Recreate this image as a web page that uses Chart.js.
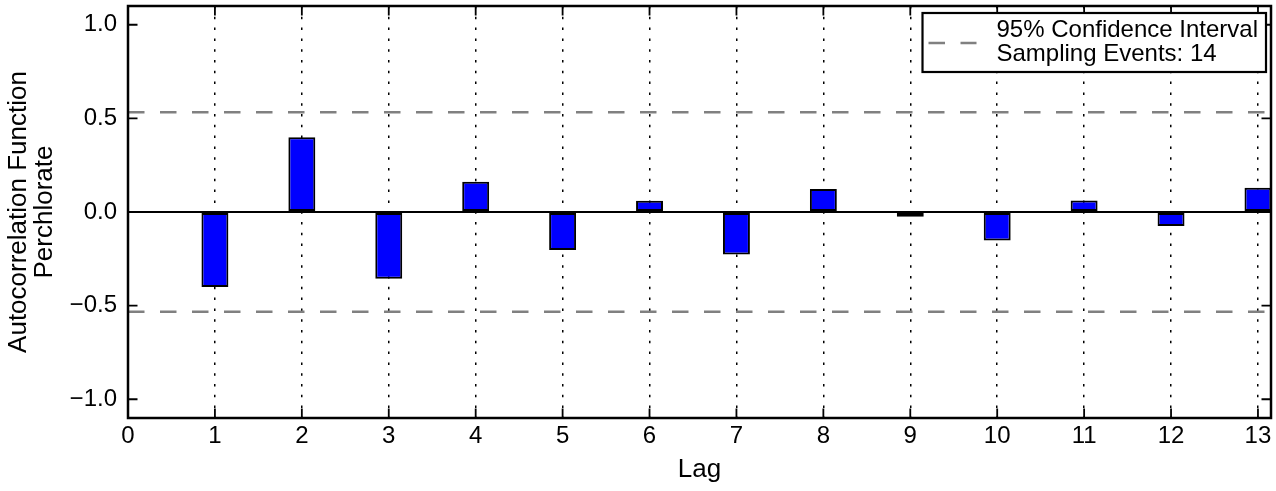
<!DOCTYPE html>
<html>
<head>
<meta charset="utf-8">
<script src="https://cdn.jsdelivr.net/npm/chart.js@4/dist/chart.umd.min.js"></script>
<style>
  html, body { margin: 0; padding: 0; background: #ffffff; }
  #wrap { width: 1276px; height: 491px; }
</style>
</head>
<body>
<div id="wrap"><canvas id="c" width="1276" height="491"></canvas></div>
<script>
// ---- data ----
const lags = [1, 2, 3, 4, 5, 6, 7, 8, 9, 10, 11, 12, 13];
const acfValues = [-0.401, 0.399, -0.357, 0.162, -0.203, 0.060, -0.227, 0.123, -0.025, -0.152, 0.062, -0.075, 0.130];
const ciBound = 0.533;
const samplingEvents = 14;
const ciLabelLines = ['95% Confidence Interval', 'Sampling Events: ' + samplingEvents];
const xTicks = [0, 1, 2, 3, 4, 5, 6, 7, 8, 9, 10, 11, 12, 13];
const yTicks = [-1.0, -0.5, 0.0, 0.5, 1.0];
const xMin = 0, xMax = 13.15;
const yMin = -1.1, yMax = 1.1;
const xTitle = 'Lag';
const yTitleLines = ['Autocorrelation Function', 'Perchlorate'];

const FONT = "'Liberation Sans', Arial, Helvetica, sans-serif";
const DASH = [16.5, 15.5];

function zeroPad(s) { s.paddingTop = 0; s.paddingBottom = 0; s.paddingLeft = 0; s.paddingRight = 0; }

// inward ticks + full frame + legend
const framePlugin = {
  id: 'frame',
  afterDraw(chart) {
    const ctx = chart.ctx;
    const ca = chart.chartArea;
    const xs = chart.scales.x, ys = chart.scales.y;
    ctx.save();
    ctx.strokeStyle = '#000';
    ctx.lineWidth = 1.8;
    const tl = 9.5;
    ctx.beginPath();
    xs.ticks.forEach(t => {
      const px = xs.getPixelForValue(t.value);
      ctx.moveTo(px, ca.bottom); ctx.lineTo(px, ca.bottom - tl);
      ctx.moveTo(px, ca.top); ctx.lineTo(px, ca.top + tl);
    });
    ys.ticks.forEach(t => {
      const py = ys.getPixelForValue(t.value);
      ctx.moveTo(ca.left, py); ctx.lineTo(ca.left + tl, py);
      ctx.moveTo(ca.right, py); ctx.lineTo(ca.right - tl, py);
    });
    ctx.stroke();
    ctx.lineWidth = 2.5;
    ctx.strokeRect(ca.left, ca.top, ca.right - ca.left, ca.bottom - ca.top);

    // legend (upper right)
    const ds = chart.data.datasets[1];
    const lines = ds.label.split('\n');
    ctx.font = '24px ' + FONT;
    const w = Math.max(...lines.map(l => ctx.measureText(l).width));
    const boxRight = ca.right - 5;
    const boxTop = ca.top + 7;
    const boxBottom = boxTop + 59;
    const textX = boxRight - 8 - w;
    const boxLeft = textX - 74;
    ctx.fillStyle = '#fff';
    ctx.fillRect(boxLeft, boxTop, boxRight - boxLeft, boxBottom - boxTop);
    ctx.lineWidth = 2.2;
    ctx.strokeStyle = '#000';
    ctx.strokeRect(boxLeft, boxTop, boxRight - boxLeft, boxBottom - boxTop);
    // handle
    ctx.beginPath();
    ctx.setLineDash(ds.borderDash);
    ctx.strokeStyle = ds.borderColor;
    ctx.lineWidth = ds.borderWidth;
    const hy = boxTop + 30;
    ctx.moveTo(textX - 68, hy); ctx.lineTo(textX - 20, hy);
    ctx.stroke();
    ctx.setLineDash([]);
    ctx.fillStyle = '#000';
    ctx.textAlign = 'left';
    ctx.textBaseline = 'alphabetic';
    ctx.fillText(lines[0], textX, boxTop + 23.5);
    ctx.fillText(lines[1], textX, boxTop + 48);
    ctx.restore();
  }
};

const ctx = document.getElementById('c').getContext('2d');
new Chart(ctx, {
  type: 'bar',
  data: {
    datasets: [
      {
        type: 'bar',
        label: 'ACF',
        data: lags.map((l, i) => ({ x: l, y: acfValues[i] })),
        backgroundColor: '#0000ff',
        borderColor: '#000000',
        borderWidth: 2,
        borderSkipped: false,
        barPercentage: 0.31,
        categoryPercentage: 1.0,
        order: 2
      },
      {
        type: 'line',
        label: ciLabelLines.join('\n'),
        data: [{ x: xMin, y: ciBound }, { x: xMax, y: ciBound }],
        borderColor: '#808080',
        borderWidth: 2.5,
        borderDash: DASH,
        pointRadius: 0,
        fill: false,
        order: 1
      },
      {
        type: 'line',
        label: 'lower',
        data: [{ x: xMin, y: -ciBound }, { x: xMax, y: -ciBound }],
        borderColor: '#808080',
        borderWidth: 2.5,
        borderDash: DASH,
        pointRadius: 0,
        fill: false,
        order: 1
      }
    ]
  },
  options: {
    responsive: false,
    animation: false,
    devicePixelRatio: 1,
    layout: { padding: { top: 6, right: 5, left: 0, bottom: 0 } },
    plugins: { legend: { display: false }, tooltip: { enabled: false } },
    scales: {
      x: {
        type: 'linear',
        offset: false,
        min: xMin,
        max: xMax,
        afterBuildTicks: s => { s.ticks = xTicks.map(v => ({ value: v })); },
        afterFit: s => { s.height = 73; zeroPad(s); },
        ticks: {
          color: '#000',
          font: { family: FONT, size: 24 },
          padding: 4,
          callback: v => String(v),
          maxRotation: 0,
          autoSkip: false
        },
        grid: {
          offset: false,
          drawTicks: false,
          lineWidth: 1.5,
          color: c => (c.tick && c.tick.value === 0) ? 'rgba(0,0,0,0)' : '#000'
        },
        border: { display: false, dash: [2.5, 8.3] },
        title: {
          display: true,
          text: xTitle,
          color: '#000',
          font: { family: FONT, size: 26, lineHeight: 1.0 },
          padding: { top: 0, bottom: 8 }
        }
      },
      y: {
        type: 'linear',
        min: yMin,
        max: yMax,
        afterBuildTicks: s => { s.ticks = yTicks.map(v => ({ value: v })); },
        afterFit: s => { s.width = 128; zeroPad(s); },
        ticks: {
          color: '#000',
          font: { family: FONT, size: 24 },
          padding: 11,
          callback: v => (v < 0 ? '\u2212' : '') + Math.abs(v).toFixed(1)
        },
        grid: {
          drawTicks: false,
          lineWidth: 2,
          color: c => (c.tick && c.tick.value === 0) ? '#000' : 'rgba(0,0,0,0)'
        },
        border: { display: false },
        title: {
          display: true,
          text: yTitleLines,
          color: '#000',
          font: { family: FONT, size: 26, lineHeight: 1.0 },
          padding: { top: 6, bottom: 0 }
        }
      }
    }
  },
  plugins: [framePlugin]
});
</script>
</body>
</html>
